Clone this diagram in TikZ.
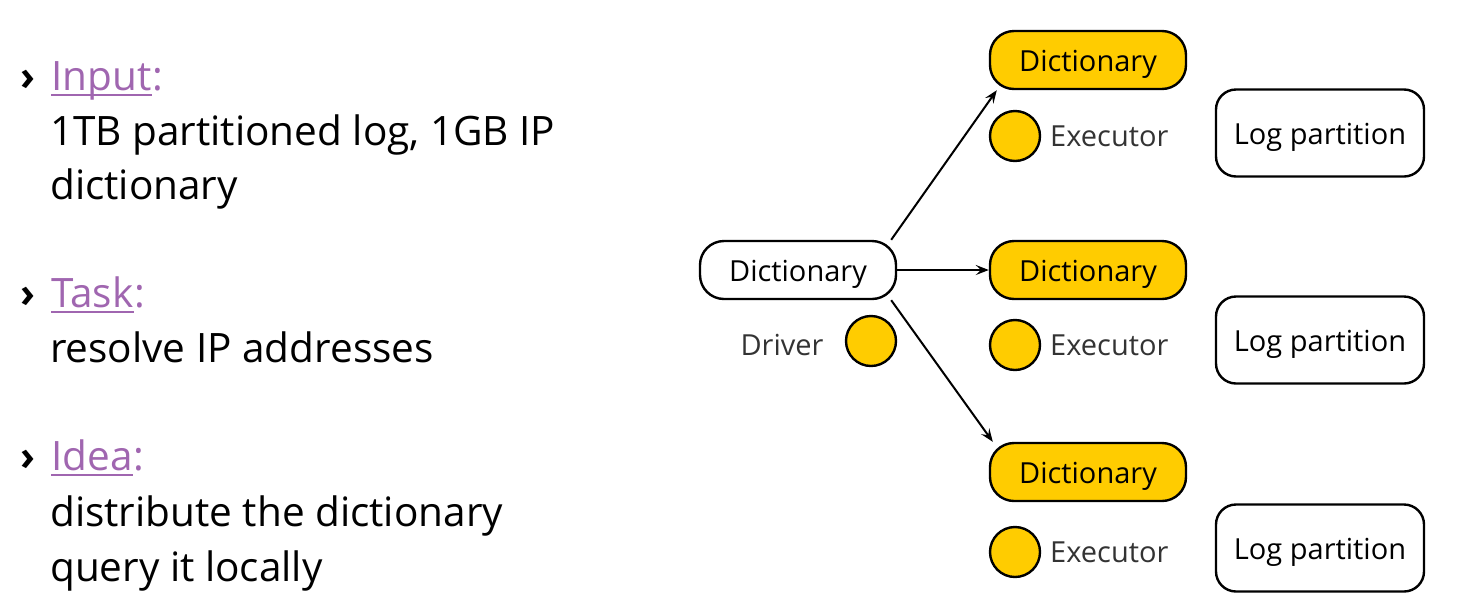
\documentclass[tikz,border=0pt]{standalone}
\usepackage{fontspec}
\setmainfont{Open Sans}
\usetikzlibrary{arrows.meta}
\definecolor{yel}{HTML}{FFCC00}
\definecolor{purp}{HTML}{A066B0}
\definecolor{gtxt}{HTML}{333333}
\tikzset{
  big/.style={font=\fontsize{40.5}{46}\selectfont, anchor=base west, inner sep=0pt},
  dictbox/.style={draw, line width=2.4pt, rounded corners=24pt, minimum width=196pt, minimum height=58pt, font=\fontsize{29}{34}\selectfont, inner sep=0pt, text height=26pt, text depth=4pt},
  exdict/.style={dictbox, fill=yel},
  logbox/.style={draw, line width=2.4pt, rounded corners=20pt, minimum width=208pt, minimum height=87pt, font=\fontsize{29}{34}\selectfont, inner sep=0pt, text height=26pt, text depth=4pt},
  proc/.style={circle, draw, line width=2.4pt, fill=yel, minimum size=50pt, inner sep=0pt},
  lbl/.style={font=\fontsize{29}{34}\selectfont, text=gtxt, inner sep=0pt},
  arr/.style={line width=2pt, -{Stealth[length=13pt, width=10pt, inset=5pt]}},
  head/.style={big, text=purp},
}
\newcommand{\purpul}[1]{\tikz[baseline=(w.base)]{\node[inner sep=0pt] (w) {#1}; \draw[purp, line width=1.8pt] ([yshift=-5pt]w.base west) -- ([yshift=-5pt]w.base east);}}
\begin{document}
\begin{tikzpicture}[x=1pt,y=-1pt]
\useasboundingbox (0,0) rectangle (1462,606);
% left text
\node[big] (b1) at (20,90) {\textbf{›}};
\node[head] (h1) at (50,90) {\purpul{Input}:};
\node[big] (t1a) at (50,145) {1TB partitioned log, 1GB IP};
\node[big] (t1b) at (50,199) {dictionary};
\node[big] (b2) at (20,307) {\textbf{›}};
\node[head] (h2) at (50,307) {\purpul{Task}:};
\node[big] (t2a) at (50,362) {resolve IP addresses};
\node[big] (b3) at (20,470) {\textbf{›}};
\node[head] (h3) at (50,470) {\purpul{Idea}:};
\node[big] (t3a) at (50,526) {distribute the dictionary};
\node[big] (t3b) at (50,581) {query it locally};
% driver
\node[dictbox] (dd) at (798,270) {Dictionary};
\node[proc] (dc) at (871,341) {};
\node[lbl] (dl) at (782,345) {Driver};
% executors
\foreach \i/\y/\c/\l in {1/60/136/133, 2/270/345/340, 3/472/552/548}{
  \node[exdict] (ed\i) at (1088,\y) {Dictionary};
  \node[proc] (ec\i) at (1015,\c) {};
  \node[lbl, anchor=west] (el\i) at (1050,\c) {Executor};
  \node[logbox] (lp\i) at (1320,\l) {Log partition};
}
\draw[arr] ([xshift=-6pt]dd.north east) -- ([xshift=8pt]ed1.south west);
\draw[arr] (dd.east) -- (ed2.west);
\draw[arr] ([xshift=-6pt]dd.south east) -- ([xshift=4pt]ed3.north west);
\end{tikzpicture}
\end{document}
